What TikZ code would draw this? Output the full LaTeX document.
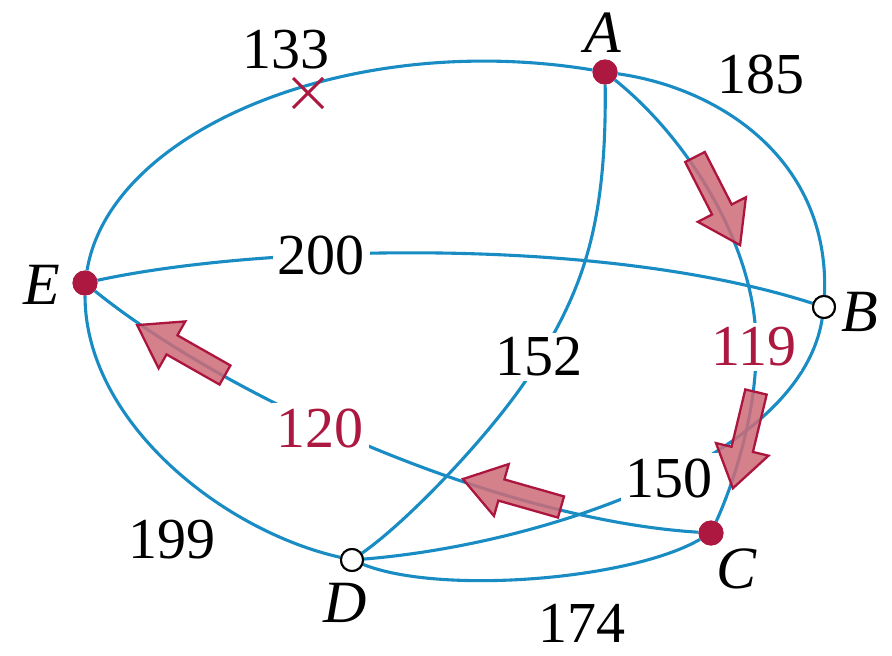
\documentclass[tikz,border=0pt]{standalone}
\usepackage{fontspec}
\setmainfont{Liberation Serif}
\definecolor{lineblue}{RGB}{25,140,195}
\definecolor{dotred}{RGB}{172,24,64}
\definecolor{arrowedge}{RGB}{172,22,62}
\definecolor{arrowfill}{RGB}{205,108,120}
\begin{document}
\begin{tikzpicture}[x=1pt,y=-1pt,
  edge/.style={draw=lineblue, line width=3.1pt},
  reddot/.style={circle, fill=dotred, inner sep=0pt, minimum size=25pt},
  opendot/.style={circle, draw=black, line width=2pt, fill=white, inner sep=0pt, minimum size=22pt},
  lbl/.style={font=\fontsize{58}{60}\selectfont, inner sep=0pt},
  wlbl/.style={lbl, fill=white, inner sep=5pt},
  redlbl/.style={wlbl, text=dotred},
  vlbl/.style={font=\fontsize{60}{60}\selectfont\itshape, inner sep=0pt},
  arrowstyle/.style={draw=arrowedge, line width=2.3pt, fill=arrowfill, fill opacity=0.86, line join=miter},
  xmark/.style={draw=dotred, line width=3pt},
  pics/barrow/.style={code={\draw[arrowstyle] (0,-11) -- ({#1-40},-11) -- ({#1-40},-27) -- (#1,0) -- ({#1-40},27) -- ({#1-40},11) -- (0,11) -- cycle;}}
]
\useasboundingbox (0,0) rectangle (892,656);

% vertices
\node[reddot] (A) at (605,72) {};
\node[opendot] (B) at (824,307) {};
\node[reddot] (C) at (711,533) {};
\node[opendot] (D) at (352,560) {};
\node[reddot] (E) at (85,283) {};

\coordinate (m119) at (756,346);
\coordinate (m152) at (540,358);

% edges
\draw[edge] (E) .. controls (110,130) and (350,30) .. (A);
\draw[edge] (A) .. controls (720,88) and (830,160) .. (B);
\draw[edge] (A) .. controls (690,140) and (757,250) .. (m119) .. controls (757,410) and (735,480) .. (C);
\draw[edge] (A) .. controls (607,230) and (580,290) .. (m152) .. controls (505,420) and (410,520) .. (D);
\draw[edge] (E) .. controls (260,245) and (600,235) .. (B);
\draw[edge] (E) .. controls (230,400) and (500,520) .. (C);
\draw[edge] (E) .. controls (85,420) and (220,530) .. (D);
\draw[edge] (D) .. controls (540,545) and (800,460) .. (B);
\draw[edge] (D) .. controls (440,595) and (630,580) .. (C);

% redraw dots on top
\node[reddot] at (A) {};
\node[opendot] at (B) {};
\node[reddot] at (C) {};
\node[opendot] at (D) {};
\node[reddot] at (E) {};

% edge labels
\node[lbl] (l133) at (286,50) {133};
\node[lbl] (l185) at (761,74) {185};
\node[wlbl] (l200) at (321,255) {200};
\node[wlbl] (l152) at (539,357) {152};
\node[redlbl] (l119) at (754,347) {119};
\node[redlbl] (l120) at (320,428) {120};
\node[wlbl] (l150) at (669,478) {150};
\node[lbl] (l199) at (172,540) {199};
\node[lbl] (l174) at (582,623) {174};

% cross
\draw[xmark] (293,78) -- (323,108);
\draw[xmark] (293,108) -- (323,78);

% block arrows
\pic[rotate=-62.9] at (695,157) {barrow=99};
\pic[rotate=-103.5] at (756,392) {barrow=99};
\pic[rotate=164.1] at (561,507) {barrow=102};
\pic[rotate=150.4] at (225,375) {barrow=101};

% vertex labels
\node[vlbl] (tA) at (603,33) {A};
\node[vlbl] (tB) at (860,312) {B};
\node[vlbl] (tC) at (737,569) {C};
\node[vlbl] (tD) at (345,603) {D};
\node[vlbl] (tE) at (42,285) {E};
\end{tikzpicture}
\end{document}
